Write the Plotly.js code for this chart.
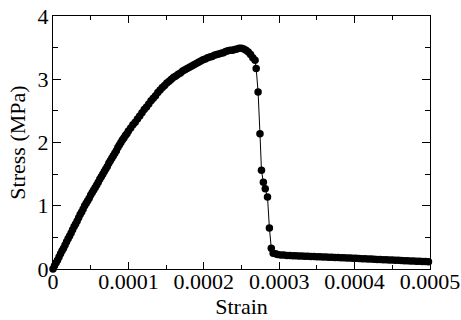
<!DOCTYPE html>
<html>
<head>
<meta charset="utf-8">
<script src="https://cdn.plot.ly/plotly-3.0.1.min.js"></script>
<style>html,body{margin:0;padding:0;background:#fff;}#chart{width:461px;height:320px;}</style>
</head>
<body>
<div id="chart"></div>
<script>
// strain in units of 1e-4, stress in MPa
const strainE4 = [
  0,0.02,0.04,0.06,0.08,0.10,0.12,0.14,0.16,0.18,0.20,0.22,0.24,0.26,0.28,0.30,0.32,0.34,0.36,0.38,0.40,0.42,
  0.44,0.46,0.48,0.50,0.52,0.54,0.56,0.58,0.60,0.62,0.64,0.66,0.68,0.70,0.72,0.74,0.76,0.78,0.80,0.82,0.84,0.86,0.88,0.90,0.92,0.94,0.96,0.98,1.00,
  1.03,1.06,1.09,1.12,1.15,1.18,1.21,1.24,1.27,1.30,1.33,1.36,1.39,1.42,1.45,1.48,1.51,1.54,1.57,1.60,1.63,1.66,1.69,1.72,1.75,1.78,1.81,1.84,1.87,1.90,1.93,1.96,1.99,2.02,2.05,2.08,2.11,2.14,2.17,2.20,2.23,2.26,2.29,2.32,2.35,2.38,2.41,2.44,2.47,2.50,2.53,2.56,2.59,2.62,2.65,2.68,
  2.695,2.72,2.745,2.765,2.79,2.815,2.845,2.87,2.895,2.92,
  2.95,2.98,3.02,3.06,3.10,3.14,3.18,3.22,3.26,3.30,3.34,3.38,3.42,3.46,3.50,3.54,3.58,3.62,3.66,3.70,3.74,3.78,3.82,3.86,3.90,3.94,3.98,
  4.02,4.06,4.10,4.14,4.18,4.22,4.26,4.30,4.34,4.38,4.42,4.46,4.50,4.54,4.58,4.62,4.66,4.70,4.74,4.78,4.82,4.86,4.90,4.94,4.98
];
const stressMPa = [
  0,0.05,0.10,0.14,0.19,0.24,0.29,0.33,0.38,0.43,0.48,0.52,0.57,0.62,0.67,0.71,0.76,0.81,0.86,0.90,0.95,1.00,
  1.04,1.08,1.12,1.17,1.21,1.25,1.29,1.33,1.37,1.42,1.46,1.50,1.54,1.58,1.62,1.67,1.71,1.75,1.79,1.83,1.87,1.92,1.96,2.00,2.04,2.07,2.11,2.14,2.18,
  2.23,2.28,2.32,2.37,2.42,2.47,2.52,2.56,2.61,2.66,2.70,2.74,2.79,2.83,2.87,2.90,2.94,2.97,3.00,3.03,3.05,3.08,3.10,3.13,3.15,3.17,3.19,3.21,3.23,3.25,3.27,3.29,3.31,3.32,3.34,3.35,3.36,3.38,3.39,3.40,3.41,3.42,3.44,3.45,3.46,3.46,3.47,3.48,3.49,3.49,3.48,3.46,3.43,3.39,3.34,3.30,
  3.17,2.80,2.14,1.56,1.37,1.27,1.14,0.65,0.33,0.25,
  0.24,0.23,0.22,0.22,0.215,0.213,0.211,0.209,0.207,0.205,0.203,0.201,0.199,0.197,0.195,0.193,0.191,0.189,0.187,0.185,0.183,0.181,0.179,0.177,0.175,0.173,0.171,
  0.168,0.166,0.164,0.161,0.159,0.157,0.155,0.152,0.150,0.148,0.146,0.143,0.141,0.139,0.137,0.134,0.132,0.130,0.128,0.125,0.123,0.121,0.119,0.117,0.115
];
const xTickVals = [0,0.0001,0.0002,0.0003,0.0004,0.0005];
const xTickText = ['0','0.0001','0.0002','0.0003','0.0004','0.0005'];
const yTickVals = [0,1,2,3,4];
const yTickText = ['0','1','2','3','4'];

const strain = strainE4.map(v => v * 1e-4);

const font = '"Liberation Serif", "Times New Roman", serif';
const trace = {
  x: strain, y: stressMPa, type: 'scatter', mode: 'lines+markers',
  line: {color: '#000', width: 1},
  marker: {color: '#000', size: 7.5},
  cliponaxis: false, hoverinfo: 'none'
};
const layout = {
  width: 461, height: 320,
  margin: {l: 53, r: 31, t: 16, b: 51, pad: 0},
  paper_bgcolor: '#fff', plot_bgcolor: '#fff',
  showlegend: false,
  font: {family: font, color: '#000', size: 22},
  xaxis: {
    range: [0, 0.0005], tickvals: xTickVals, ticktext: xTickText,
    ticks: 'inside', ticklen: 7, tickwidth: 1, tickcolor: '#000',
    minor: {dtick: 0.00005, ticks: 'inside', ticklen: 4, tickwidth: 1, tickcolor: '#000'},
    showline: true, linecolor: '#000', linewidth: 1, mirror: 'allticks',
    showgrid: false, zeroline: false, ticklabelstandoff: -7,
    tickfont: {family: font, size: 22, color: '#000'},
    title: {text: 'Strain', font: {family: font, size: 22, color: '#000'}, standoff: 5}
  },
  yaxis: {
    range: [0, 4], tickvals: yTickVals, ticktext: yTickText,
    ticks: 'inside', ticklen: 8, tickwidth: 1, tickcolor: '#000',
    minor: {dtick: 0.5, ticks: 'inside', ticklen: 5, tickwidth: 1, tickcolor: '#000'},
    showline: true, linecolor: '#000', linewidth: 1, mirror: 'allticks',
    showgrid: false, zeroline: false, ticklabelstandoff: -1,
    tickfont: {family: font, size: 22, color: '#000'},
    title: {text: 'Stress (MPa)', font: {family: font, size: 22, color: '#000'}, standoff: 5}
  }
};
Plotly.newPlot('chart', [trace], layout, {displayModeBar: false, staticPlot: true});
</script>
</body>
</html>
